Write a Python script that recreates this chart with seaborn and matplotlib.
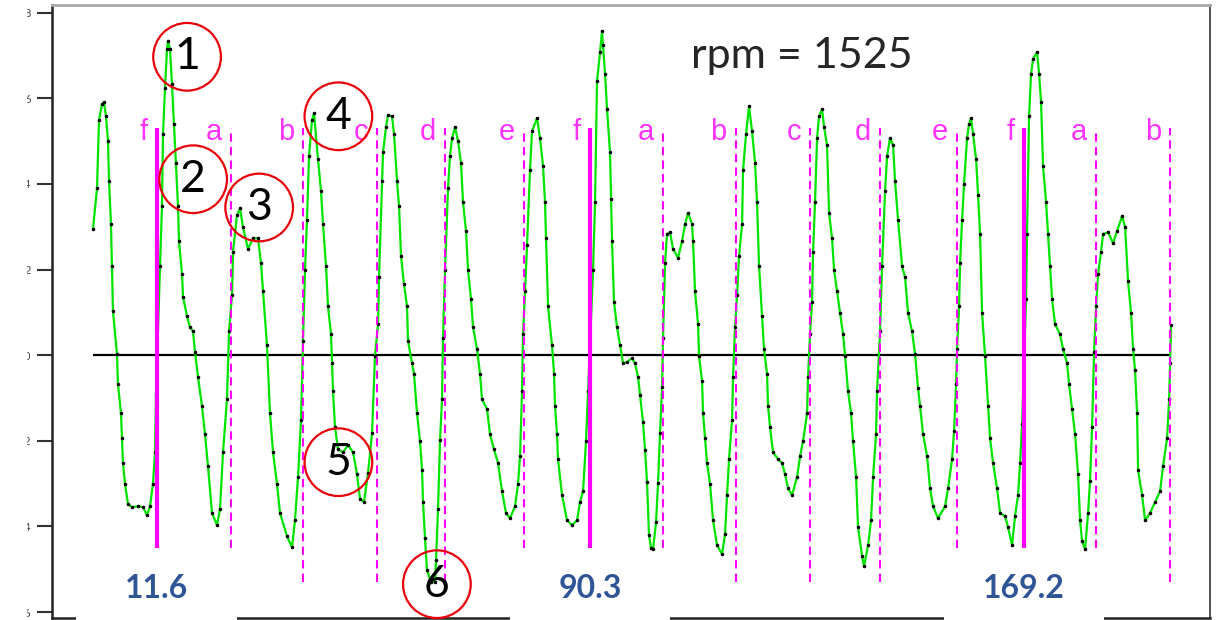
import pandas as pd
import seaborn as sns
import matplotlib.pyplot as plt
from matplotlib.patches import Rectangle

# crank sensor trace: time (ms) / amplitude (V)
time_ms = [
    0.00, 0.73, 1.09, 1.64, 2.00, 2.36, 2.73, 2.91, 3.27, 3.45, 3.63, 4.36, 4.54, 5.09, 5.27, 5.45,
    5.82, 6.36, 7.09, 8.18, 9.09, 9.81, 10.36, 10.90, 11.27, 11.45, 12.18, 12.54, 12.72, 13.09, 13.45,
    13.63, 13.99, 14.36, 14.72, 15.09, 15.45, 15.63, 16.18, 16.36, 17.08, 17.63, 18.18, 18.54, 19.08,
    19.81, 20.36, 20.90, 21.63, 22.54, 23.08, 23.63, 24.35, 24.72, 25.26, 25.45, 26.17, 26.72, 27.26,
    28.17, 29.08, 29.99, 30.53, 30.90, 31.62, 32.17, 32.72, 33.44, 33.99, 35.26, 36.17, 36.71, 37.26,
    37.80, 38.17, 38.53, 38.89, 39.26, 39.80, 40.17, 40.89, 41.44, 41.80, 42.35, 42.71, 43.26, 43.44,
    43.62, 43.98, 44.53, 45.44, 46.35, 47.26, 47.98, 48.53, 49.25, 49.98, 50.71, 51.25, 51.80, 51.98,
    52.53, 52.71, 53.25, 53.62, 54.34, 54.71, 55.25, 55.62, 55.98, 56.52, 57.07, 57.25, 57.98, 58.34,
    58.89, 59.43, 59.80, 59.98, 60.34, 60.70, 61.43, 62.16, 62.34, 62.70, 63.07, 63.43, 63.61, 63.98,
    64.52, 64.88, 65.25, 65.79, 66.34, 66.88, 67.25, 67.79, 68.16, 68.70, 69.07, 69.79, 70.34, 70.70,
    71.61, 72.15, 72.88, 73.61, 74.34, 75.06, 75.79, 76.70, 77.24, 77.61, 77.97, 78.15, 78.52, 78.88,
    79.42, 79.79, 80.70, 81.24, 81.79, 82.15, 82.33, 82.70, 83.42, 83.79, 83.97, 84.33, 84.51, 85.24,
    86.15, 87.06, 87.97, 88.51, 89.06, 89.60, 89.97, 90.88, 91.24, 91.60, 92.15, 92.51, 92.69, 93.06,
    93.42, 93.96, 94.15, 94.33, 94.69, 95.24, 95.78, 96.33, 97.05, 97.96, 98.51, 99.05, 99.42, 99.96,
    100.33, 100.69, 101.05, 101.42, 101.78, 102.33, 102.69, 103.05, 103.42, 103.60, 103.96, 104.32,
    104.87, 105.42, 106.32, 107.05, 107.60, 108.14, 108.87, 109.05, 109.41, 109.96, 110.14, 110.69,
    110.87, 111.23, 111.59, 112.14, 112.69, 113.41, 114.32, 114.87, 115.23, 115.59, 116.14, 116.32,
    116.68, 117.05, 117.41, 117.96, 118.14, 118.68, 119.23, 119.77, 120.32, 120.68, 121.05, 121.59,
    121.95, 122.50, 122.68, 123.04, 123.59, 124.50, 125.23, 125.77, 126.32, 127.04, 127.95, 128.50,
    129.04, 129.77, 129.95, 130.31, 130.68, 130.86, 131.22, 131.59, 131.95, 132.50, 132.86, 133.40,
    133.77, 134.31, 134.68, 135.22, 135.77, 136.31, 136.68, 137.22, 137.77, 138.13, 138.68, 139.04,
    139.77, 140.13, 140.86, 141.40, 141.77, 142.31, 142.49, 143.04, 143.40, 143.95, 144.31, 144.85,
    145.40, 145.76, 146.31, 147.04, 147.58, 148.13, 148.85, 149.40, 149.94, 150.31, 150.85, 151.58,
    152.12, 152.67, 153.58, 154.85, 155.40, 156.12, 156.49, 156.85, 157.03, 157.40, 157.58, 157.94,
    158.30, 158.85, 159.21, 159.58, 159.94, 160.49, 160.85, 161.21, 161.58, 162.12, 162.67, 163.03,
    163.58, 164.30, 164.85, 165.76, 166.30, 167.03, 167.57, 168.12, 168.48, 168.85, 169.57, 169.75,
    170.12, 170.48, 170.85, 171.57, 171.94, 172.30, 172.66, 173.21, 173.57, 173.93, 174.30, 174.84,
    175.75, 176.30, 177.02, 177.39, 177.93, 178.48, 179.02, 179.39, 179.75, 180.30, 180.84, 181.20,
    181.57, 181.93, 182.30, 182.66, 183.20, 183.57, 184.48, 185.39, 186.11, 187.02, 187.57, 188.11,
    188.66, 189.02, 189.38, 189.75, 189.93, 190.66, 191.20, 192.11, 193.02, 193.93, 194.47, 195.20,
    195.57, 195.75, 195.93,
]
volts = [
    2.94, 3.90, 5.49, 5.86, 5.91, 5.58, 5.00, 4.07, 3.06, 2.08, 1.03, 0.02, -0.68, -1.36, -1.94, -2.52,
    -3.01, -3.48, -3.55, -3.53, -3.55, -3.74, -3.53, -3.01, -2.27, -0.93, 2.08, 3.48, 5.16, 6.24, 7.15,
    7.34, 7.15, 6.33, 5.40, 4.49, 3.48, 2.66, 1.89, 1.36, 0.91, 0.65, 0.56, 0.07, -0.51,
    -1.19, -1.85, -2.59, -3.69, -3.97, -3.60, -2.27, -1.03, 0.56, 1.40, 2.41, 3.27, 3.43, 2.99,
    2.48, 2.73, 2.73, 2.15, 1.50, 0.23, -1.36, -2.27, -3.01, -3.69, -4.23, -4.49, -3.86, -2.85,
    -1.52, 0.33, 1.99, 3.15, 4.65, 5.49, 5.65, 4.58, 3.83, 3.06, 2.08, 1.14, 0.49, -0.19,
    -0.84, -1.68, -2.20, -2.27, -2.10, -2.27, -2.78, -3.36, -3.43, -2.76, -1.82, -0.02, 0.72, 1.82,
    4.07, 4.74, 5.33, 5.61, 5.58, 5.16, 4.07, 3.48, 2.31, 1.66, 1.14, 0.33, -0.19, -0.44,
    -1.36, -2.01, -2.69, -3.43, -4.28, -5.02, -5.30, -5.30, -4.79, -3.60, -1.99, -1.03, 0.40, 1.99,
    3.90, 4.65, 5.07, 5.33, 5.00, 4.49, 3.57, 2.90, 1.99, 1.31, 0.65, 0.14, -0.44, -1.03,
    -1.26, -1.85, -2.20, -2.52, -3.18, -3.69, -3.81, -3.53, -3.01, -2.36, -0.84, 0.49, 1.50, 2.57,
    4.32, 5.23, 5.54, 5.07, 4.42, 3.57, 2.73, 1.14, 0.23, -0.44, -1.19, -1.85, -2.43, -3.27,
    -3.86, -3.97, -3.86, -3.43, -3.18, -2.01, -0.84, 1.99, 3.57, 6.40, 7.08, 7.57, 7.24, 6.57,
    5.75, 4.74, 3.64, 2.66, 1.24, 0.65, 0.23, -0.19, -0.16, -0.07, -0.19, -0.51, -0.93, -1.57,
    -2.22, -2.97, -4.21, -4.51, -4.53, -3.90, -2.99, -1.82, -0.75, 0.40, 2.15, 2.83,
    2.87, 2.48, 2.27, 2.66, 3.06, 3.32, 3.06, 2.66, 1.50, 0.72, -0.02, -0.61,
    -1.36, -1.94, -2.52, -3.01, -3.86, -4.44, -4.65, -4.18, -3.27, -2.43, -1.52, -0.51,
    0.65, 1.40, 2.31, 3.06, 4.32, 5.16, 5.82, 5.23, 4.49, 3.57, 2.08, 0.91,
    0.14, -0.44, -1.19, -1.68, -2.27, -2.43, -2.52, -2.78, -3.11, -3.27, -2.85, -2.36,
    -2.01, -1.36, -0.51, 0.49, 1.24, 2.41, 3.57, 5.07, 5.58, 5.75, 5.33, 4.91,
    3.32, 2.73, 1.99, 1.50, 0.98, 0.49, -0.02, -0.84, -1.36, -2.01, -2.85, -4.02,
    -4.70, -4.93, -4.44, -3.86, -2.85, -1.85, -0.84, 0.56, 2.08, 3.83, 4.65, 5.07,
    4.91, 4.07, 3.15, 2.08, 1.82, 0.98, 0.56, 0.02, -0.77, -1.19, -1.85, -2.36,
    -3.11, -3.53, -3.81, -3.53, -3.11, -2.43, -1.78, -0.68, 0.14, 1.14, 2.15, 3.15,
    4.00, 5.07, 5.40, 5.54, 5.16, 4.58, 3.74, 2.83, 0.98, -0.02, -1.19, -1.94,
    -2.52, -3.11, -3.69, -3.76, -4.02, -4.44, -3.76, -3.27, -2.52, -1.61, 1.31, 2.83,
    5.58, 6.57, 6.92, 7.08, 6.57, 5.91, 4.42, 3.57, 2.83, 2.08, 1.31, 0.72,
    0.49, 0.14, -0.19, -0.68, -1.26, -1.85, -2.78, -3.86, -4.35, -4.53, -3.69, -2.94,
    -1.68, 0.07, 1.14, 1.89, 2.41, 2.83, 2.87, 2.62, 2.90, 3.25, 2.99, 1.73,
    0.98, 0.14, -0.35, -1.36, -2.69, -3.27, -3.86, -3.69, -3.43, -3.18, -2.59, -1.94,
    -1.03, -0.19, 0.70,
]

# cylinder reference marks (f = TDC marker)
mark_times = [11.6, 25.0, 38.2, 51.7, 63.9, 78.4, 90.3, 103.6, 116.8, 130.3, 143.0, 157.0,
              169.2, 182.3, 195.8]
mark_names = ["f", "a", "b", "c", "d", "e", "f", "a", "b", "c", "d", "e", "f", "a", "b"]

# numbered callouts
callout_names = ["1", "2", "3", "4", "5", "6"]
callout_t = [17.1, 18.2, 30.2, 44.6, 44.6, 62.5]
callout_v = [6.97, 4.11, 3.45, 5.58, -2.50, -5.35]

y_ticks = [8, 6, 4, 2, 0, -2, -4, -6]
rpm = 1525

MAGENTA = "#ff00ff"
BLUE = "#2f5597"

sns.set_style("white")
plt.rcParams["font.family"] = ["Lato", "DejaVu Sans"]

fig = plt.figure(figsize=(12.16, 6.2), dpi=100)
ax = fig.add_axes([52 / 1216, 2 / 620, (1210 - 52) / 1216, (615 - 2) / 620])

df = pd.DataFrame({"time": time_ms, "volts": volts})

# zero line across the trace
ax.hlines(0, df["time"].min(), df["time"].max(), color="black", lw=1.6, zorder=2)

sns.lineplot(data=df, x="time", y="volts", estimator=None, sort=False, ax=ax,
             color="#00e400", lw=1.6, marker="o", markersize=1.8,
             markerfacecolor="black", markeredgecolor="black", zorder=3)

for t, name in zip(mark_times, mark_names):
    if name == "f":
        ax.vlines(t, -4.51, 5.30, color=MAGENTA, lw=3.0, zorder=4)
    else:
        bottom = -5.30 if name in ("b", "c", "d") else -4.51
        ax.vlines(t, bottom, 5.30, color=MAGENTA, lw=1.5, linestyles=(0, (4, 2.5)), zorder=4)
    ax.annotate(name, (t, 5.02), xytext=(-6.5, 0), textcoords="offset points",
                ha="right", va="baseline", color="#ff33ff", fontsize=21,
                family=["Liberation Sans", "DejaVu Sans"], zorder=5)

# TDC times under the f markers, on white boxes that break the bottom frame
for t, name in zip(mark_times, mark_names):
    if name != "f":
        continue
    ax.axvspan(t - 14.6, t + 14.6, ymin=-0.02, ymax=0.015, color="white",
               zorder=6, clip_on=False, lw=0)
    ax.text(t, -5.68, f"{t:.1f}", ha="center", va="baseline", color=BLUE,
            fontsize=23, fontweight="bold", zorder=7)

for name, t, v in zip(callout_names, callout_t, callout_v):
    ax.text(t, v, name, ha="center", va="center", fontsize=32, color="black", zorder=8,
            bbox=dict(boxstyle="circle,pad=0.30", fc="none", ec="#e8000b", lw=1.6))

ax.text(108.6, 6.71, f"rpm = {rpm}", ha="left", va="baseline", fontsize=31, zorder=8)

ax.set_xlim(-7.45, 203.0)
ax.set_ylim(-6.14, 8.18)
ax.set_xticks([])
ax.set_yticks(y_ticks)
ax.set_yticklabels([str(v) for v in y_ticks])
ax.set_xlabel("")
ax.set_ylabel("")
ax.tick_params(axis="y", left=True, length=11, width=1.5, color="#333333", pad=4.5,
               labelsize=8, labelcolor="#444444")

for side in ("left", "bottom"):
    ax.spines[side].set_color("#222222")
    ax.spines[side].set_linewidth(1.8)
ax.spines["right"].set_color("#333333")
ax.spines["right"].set_linewidth(1.2)
ax.spines["top"].set_color("#a8a8a8")
ax.spines["top"].set_linewidth(2.0)

# the y labels in the capture are half cut away on the left
fig.add_artist(Rectangle((0, 0), 26 / 1216, 1, transform=fig.transFigure,
                         color="white", zorder=10))

fig.savefig("out.png", dpi=100)
